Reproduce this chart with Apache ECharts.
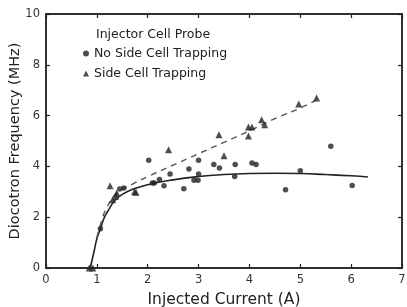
<!DOCTYPE html>
<html>
<head>
<meta charset="utf-8">
<script src="https://cdn.jsdelivr.net/npm/echarts@6/dist/echarts.min.js"></script>
<style>
  html, body { margin: 0; padding: 0; background: #fff; }
  #chart { width: 407px; height: 307px; }
</style>
</head>
<body>
<div id="chart"></div>
<script>
// x tick labels
var xTicks = ['0', '1', '2', '3', '4', '5', '6', '7'];
var yTicks = ['0', '2', '4', '6', '8', '10'];

// No Side Cell Trapping (dots)
var noSideTrap = [
  [1.07, 1.55], [1.45, 3.11], [1.53, 3.15], [2.02, 4.24], [2.09, 3.35],
  [2.13, 3.35], [2.23, 3.48], [2.32, 3.24], [2.44, 3.70], [2.71, 3.12],
  [2.81, 3.90], [2.91, 3.45], [2.99, 3.45], [3.00, 4.24], [3.00, 3.70],
  [3.30, 4.07], [3.41, 3.94], [3.72, 4.07], [3.71, 3.60], [4.05, 4.13],
  [4.13, 4.07], [4.71, 3.08], [5.00, 3.83], [5.60, 4.79], [6.02, 3.25]
];

// Side Cell Trapping (triangles)
var sideTrap = [
  [0.85, 0], [0.92, 0], [1.26, 3.24], [1.31, 2.69], [1.37, 2.82],
  [1.39, 2.95], [1.74, 3.00], [1.77, 2.98], [2.41, 4.66], [3.40, 5.25],
  [3.50, 4.42], [3.98, 5.20], [3.98, 5.55], [4.05, 5.55], [4.24, 5.84],
  [4.30, 5.64], [4.97, 6.46], [5.32, 6.69]
];

// fitted curves
var solidFit = [
  [0.87, 0], [0.95, 0.7], [1.0, 1.15], [1.07, 1.55], [1.15, 2.0],
  [1.25, 2.35], [1.35, 2.65], [1.5, 2.9], [1.7, 3.1], [2.0, 3.28],
  [2.5, 3.47], [3.0, 3.6], [3.5, 3.68], [4.0, 3.72], [4.5, 3.73],
  [5.0, 3.72], [5.5, 3.68], [6.0, 3.63], [6.33, 3.58]
];
var dashedFit = [
  [1.0, 1.2], [1.1, 1.9], [1.2, 2.4], [1.4, 2.95], [1.7, 3.3],
  [2.0, 3.6], [2.5, 4.05], [3.0, 4.5], [3.5, 4.95], [4.0, 5.4],
  [4.5, 5.88], [5.0, 6.3], [5.3, 6.6]
];

var ink = '#222';
var font = 'DejaVu Sans';

var chart = echarts.init(document.getElementById('chart'));

function axisBase(extra) {
  var a = {
    type: 'value',
    min: 0,
    splitLine: { show: false },
    axisLine: { show: true, onZero: false, lineStyle: { color: ink, width: 1.5 } },
    axisTick: { show: true, inside: true, length: 4, lineStyle: { color: ink, width: 1.2 } },
    axisLabel: { color: '#333', fontFamily: font, fontSize: 11 }
  };
  for (var k in extra) a[k] = extra[k];
  return a;
}

chart.setOption({
  animation: false,
  backgroundColor: '#fff',
  title: {
    text: 'Injector Cell Probe',
    left: 91, top: 23,
    textStyle: { fontFamily: font, fontSize: 12.5, fontWeight: 'normal', color: ink }
  },
  legend: {
    orient: 'vertical',
    left: 78, top: 42,
    itemGap: 7,
    itemWidth: 6, itemHeight: 6,
    data: [
      { name: 'No Side Cell Trapping', icon: 'circle' },
      { name: 'Side Cell Trapping', icon: 'triangle' }
    ],
    textStyle: { fontFamily: font, fontSize: 12.5, color: ink }
  },
  grid: {
    left: 46, right: 5, top: 14, bottom: 39,
    outerBoundsMode: 'none',
    show: true, borderColor: ink, borderWidth: 1.5
  },
  xAxis: [
    axisBase({
      max: 7, interval: 1,
      name: 'Injected Current (A)',
      nameLocation: 'middle',
      nameGap: 24,
      nameMoveOverlap: false,
      nameTextStyle: { fontFamily: font, fontSize: 15.5, color: ink },
      axisLabel: {
        color: '#333', fontFamily: font, fontSize: 11.5, margin: 6,
        formatter: function (v) { return xTicks[v]; }
      }
    }),
    axisBase({ max: 7, interval: 1, position: 'top', axisLabel: { show: false } })
  ],
  yAxis: [
    axisBase({
      max: 10, interval: 2,
      name: 'Diocotron Frequency (MHz)',
      nameLocation: 'middle',
      nameGap: 23,
      nameMoveOverlap: false,
      nameTextStyle: { fontFamily: font, fontSize: 14.5, color: ink },
      axisLabel: {
        color: '#333', fontFamily: font, fontSize: 11.5, margin: 6,
        formatter: function (v) { return yTicks[v / 2]; }
      }
    }),
    axisBase({ max: 10, interval: 2, position: 'right', axisLabel: { show: false } })
  ],
  series: [
    {
      name: 'solid fit', type: 'line', data: solidFit, smooth: true,
      showSymbol: false, symbol: 'none',
      lineStyle: { color: ink, width: 1.6 }, z: 2
    },
    {
      name: 'dashed fit', type: 'line', data: dashedFit, smooth: true,
      showSymbol: false, symbol: 'none',
      lineStyle: { color: '#555', width: 1.4, type: [6, 5] }, z: 2
    },
    {
      name: 'No Side Cell Trapping', type: 'scatter', data: noSideTrap,
      symbol: 'circle', symbolSize: 5.5,
      itemStyle: { color: ink }, z: 3
    },
    {
      name: 'Side Cell Trapping', type: 'scatter', data: sideTrap,
      symbol: 'triangle', symbolSize: 7,
      itemStyle: { color: ink }, z: 3
    },
    {
      name: 'frame', type: 'scatter', data: [],
      xAxisIndex: 1, yAxisIndex: 1
    }
  ]
});
</script>
</body>
</html>
